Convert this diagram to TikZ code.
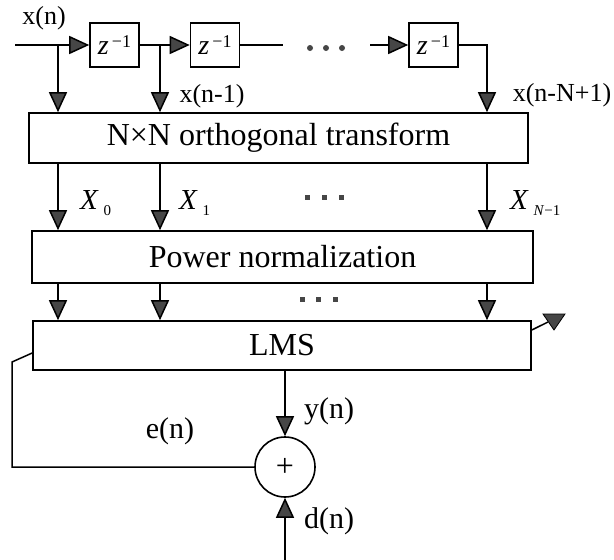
\documentclass[tikz,border=0pt]{standalone}
\usepackage{fontspec}
\setmainfont{Liberation Serif}
\usetikzlibrary{positioning,arrows.meta,calc}
\definecolor{TipGray}{RGB}{70,70,70}
\tikzset{
  flow/.style={-{Triangle[length=20pt,width=18pt,fill=TipGray]},line width=1.5pt,draw=black},
  wire/.style={line width=1.5pt,draw=black},
  delaybox/.style={draw,line width=1.6pt,minimum width=49pt,minimum height=44pt,
    inner sep=0pt,font=\fontsize{28}{28}\selectfont},
  stagebox/.style={draw,line width=1.6pt,inner sep=0pt,align=center,
    font=\fontsize{32}{36}\selectfont},
  sumnode/.style={draw,circle,line width=1.6pt,minimum size=60pt,inner sep=0pt,
    font=\fontsize{32}{32}\selectfont},
  siglabel/.style={inner sep=0pt,font=\fontsize{26}{30}\selectfont},
  xlabel/.style={inner sep=0pt,anchor=west,font=\fontsize{29}{30}\selectfont},
  biglabel/.style={inner sep=0pt,font=\fontsize{30}{34}\selectfont}
}
\newcommand{\lowsub}[1]{\,\raisebox{-0.45ex}{\fontsize{15}{15}\selectfont #1}}
\newcommand{\zinv}{\textit{z}\raisebox{0.55ex}{\fontsize{18}{18}\selectfont\,−1}}

\begin{document}
\begin{tikzpicture}[x=1pt,y=-1pt]
  \useasboundingbox (0,0) rectangle (614,560);
  % tapped delay line
  \coordinate (xin) at (15,45);
  \node[delaybox] (z1) at (114.5,45) {\zinv};
  \node[delaybox] (z2) at (215,45) {\zinv};
  \node[delaybox] (z3) at (433.5,45) {\zinv};
  \coordinate (zend) at (283,45);
  \coordinate (zin3) at (370,45);
  \coordinate (c0) at (58,0);
  \coordinate (c1) at (160,0);
  \coordinate (cN) at (487,0);
  \node[siglabel] (lxn) at (44,18) {x(n)};
  \node[siglabel] (lxn1) at (212,96) {x(n-1)};
  \node[siglabel] (lxnN) at (562,95) {x(n-N+1)};
  % processing stages
  \node[stagebox,minimum width=499pt,minimum height=50pt] (trans) at (278.5,138) {N×N orthogonal transform};
  \node[stagebox,minimum width=501pt,minimum height=52pt] (power) at (282.5,257) {Power normalization};
  \node[stagebox,minimum width=498pt,minimum height=49pt] (lms) at (282,345.5) {LMS};
  \node[sumnode] (sum) at (285,467) {+};
  \coordinate (din) at (285,560);
  \coordinate (fbtop) at (12,362);
  \coordinate (adapt) at (548,322);
  \node[xlabel] (lX0) at (80,203) {\textit{X}\lowsub{0}};
  \node[xlabel] (lX1) at (179,203) {\textit{X}\lowsub{1}};
  \node[xlabel] (lXN) at (510,203) {\textit{X}\lowsub{\textit{N}−1}};
  \node[biglabel] (ly) at (329,411) {y(n)};
  \node[biglabel] (le) at (170,431) {e(n)};
  \node[biglabel] (ld) at (329,521) {d(n)};
  % connectors
  \draw[flow] (xin) -- (z1.west);
  \draw[flow] (z1.east) -- (z2.west);
  \draw[wire] (z2.east) -- (zend);
  \draw[flow] (zin3) -- (z3.west);
  \draw[flow] (xin -| c0) -- (trans.north -| c0);
  \draw[flow] (z1.east -| c1) -- (trans.north -| c1);
  \draw[flow] (z3.east) -| (trans.north -| cN);
  \foreach \c in {c0,c1,cN} {
    \draw[flow] (trans.south -| \c) -- (power.north -| \c);
    \draw[flow] (power.south -| \c) -- (lms.north -| \c);
  }
  \draw[flow] (lms.south -| sum) -- (sum.north);
  \draw[flow] (din) -- (sum.south);
  \draw[wire] (sum.west) -| (fbtop) -- ([yshift=-7.5pt]lms.west);
  \draw[wire] ([yshift=15.5pt]lms.east) -- (adapt);
  \filldraw[fill=TipGray,draw=black,line width=0.8pt] ($(adapt)+(-5,-8)$) -- ($(adapt)+(17,-8)$) -- ($(adapt)+(6,8)$) -- cycle;
  % ellipsis marks
  \foreach \dx in {310,326,342} \fill[TipGray] (\dx,48) circle (3pt);
  \foreach \sx in {307,324,341} \fill[TipGray] (\sx-2.5,194.5) rectangle ++(5,5);
  \foreach \sx in {302,318,335} \fill[TipGray] (\sx-2.5,296.5) rectangle ++(5,5);
\end{tikzpicture}
\end{document}
